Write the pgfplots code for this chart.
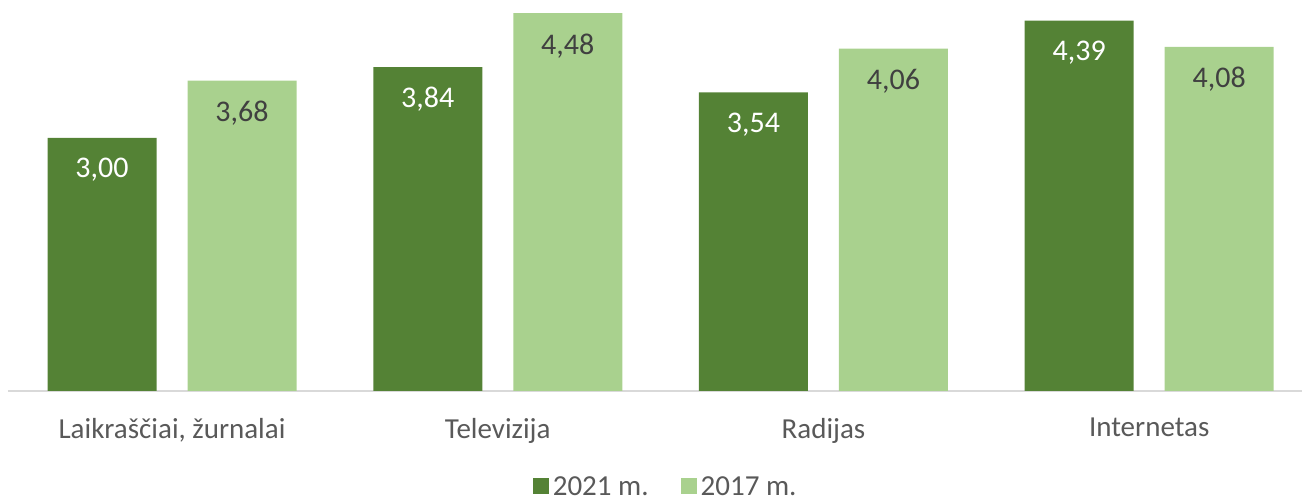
\documentclass[border=0pt]{standalone}
\usepackage{pgfplots}
\pgfplotsset{compat=1.18}
\usepackage{fontspec}
\setmainfont{Carlito}
\definecolor{darkg}{HTML}{548235}
\definecolor{lightg}{HTML}{A9D18E}
\definecolor{txt}{HTML}{595959}
\definecolor{lbl}{HTML}{404040}
\begin{document}
\begin{tikzpicture}
\begin{axis}[
  scale only axis,
  width=647pt, height=194pt,
  xmin=-0.5035, xmax=3.469,
  ymin=0, ymax=4.6,
  ybar,
  axis x line*=bottom,
  axis y line=none,
  x axis line style={draw=black!15, line width=0.8pt, -},
  xtick={0,1,2,3},
  xticklabels={{Laikraščiai, žurnalai},{Televizija},{Radijas},{Internetas}},
  major tick length=0pt,
  xticklabel style={font=\fontsize{14.5}{17}\selectfont, text=txt, yshift=-10pt},
  bar width=54.5pt,
  nodes near coords={\pgfmathprintnumber[fixed,fixed zerofill,precision=2,use comma,assume math mode=true]{\pgfplotspointmeta}},
  every node near coord/.append style={anchor=north, inner sep=0pt, yshift=-10pt, font=\fontsize{15}{18}\selectfont},
  legend style={draw=none, at={(0.509,-0.25)}, anchor=center, legend columns=2,
    font=\fontsize{14.5}{17}\selectfont, text=txt, fill=none, inner sep=1pt,
    /tikz/every even column/.append style={column sep=14pt}},
  legend cell align=left,
]
\addplot[ybar, bar shift=-35pt, fill=darkg, draw=none, every node near coord/.append style={text=white},
  legend image code/.code={\fill[darkg] (0pt,-3pt) rectangle (8pt,5pt);}]
  coordinates {(0,3.00) (1,3.84) (2,3.54) (3,4.39)};
\addlegendentry{2021 m.}
\addplot[ybar, bar shift=35pt, fill=lightg, draw=none, every node near coord/.append style={text=lbl},
  legend image code/.code={\fill[lightg] (0pt,-3pt) rectangle (8pt,5pt);}]
  coordinates {(0,3.68) (1,4.48) (2,4.06) (3,4.08)};
\addlegendentry{2017 m.}
\coordinate (o) at (rel axis cs:0,0);
\end{axis}
\pgfresetboundingbox
\path (o) ++(-4pt,-55.5pt) rectangle ++(653pt,251pt);
\end{tikzpicture}
\end{document}
